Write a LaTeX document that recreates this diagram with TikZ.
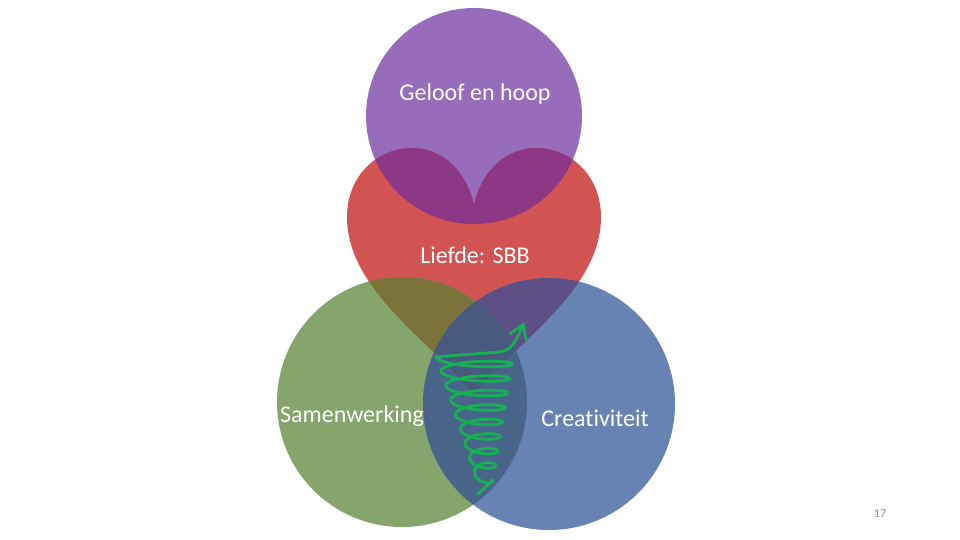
\documentclass[tikz,border=0pt]{standalone}
\usepackage{fontspec}
\setmainfont{Carlito}[Ligatures=NoCommon]
\usetikzlibrary{arrows.meta}
\tikzset{>={Straight Barb[length=14pt,width=18pt]}}

\definecolor{geloofc}{RGB}{151,108,186}
\definecolor{liefdec}{RGB}{209,83,82}
\definecolor{samenc}{RGB}{133,165,109}
\definecolor{creac}{RGB}{103,131,180}
\definecolor{geloofliefde}{RGB}{140,56,134}
\definecolor{samenliefde}{RGB}{124,115,59}
\definecolor{crealiefde}{RGB}{94,80,134}
\definecolor{samencrea}{RGB}{74,101,138}
\definecolor{allesc}{RGB}{72,90,126}
\definecolor{spiraalc}{RGB}{20,178,82}

\tikzset{lbl/.style={text=white, font=\fontsize{24}{28}\selectfont, inner sep=0pt}}
\tikzset{spiraal/.style={draw=spiraalc, line width=2.8pt, line cap=round, line join=round}}

\begin{document}
\begin{tikzpicture}[x=1pt,y=-1pt]
	\useasboundingbox (0,0) rectangle (960,540);
	\coordinate (GC) at (474,116);
	\coordinate (SC) at (402,402);
	\coordinate (CC) at (549,404);
	\path [save path=\hart] (474,395) .. controls (430,340) and (347,290) .. (347,217)
		.. controls (347,175) and (378,148) .. (412,148)
		.. controls (445,148) and (468,175) .. (474,205)
		.. controls (480,175) and (503,148) .. (536,148)
		.. controls (570,148) and (601,175) .. (601,217)
		.. controls (601,290) and (518,340) .. (474,395) -- cycle;
	
	\fill [geloofc] (GC) circle (108);
	\fill [liefdec, use path=\hart];
	\fill [samenc] (SC) circle (125);
	\fill [creac] (CC) circle (126);
	\begin{scope}
		\clip [use path=\hart];
		\fill [geloofliefde] (GC) circle (108);
		\fill [samenliefde] (SC) circle (125);
		\fill [crealiefde] (CC) circle (126);
	\end{scope}
	\begin{scope}
		\clip (SC) circle (125);
		\fill [samencrea] (CC) circle (126);
		\clip [use path=\hart];
		\fill [allesc] (CC) circle (126);
	\end{scope}
	
	\node (geloof) [lbl] at (475,94) {Geloof en hoop};
	\node (liefde) [lbl] at (475,255) {Liefde: SBB};
	\node (samen) [lbl] at (352,416) {Samenwerking};
	\node (crea) [lbl] at (595,418) {Creativiteit};
	\node (paginanr) [text={rgb,255:red,137;green,137;blue,137}, font=\fontsize{12}{14}\selectfont, inner sep=0pt] at (880,514) {17};
	
	\coordinate (start) at (478,494);
	\coordinate (tip) at (524,322);
	\draw [spiraal, ->] (start) -- plot [domain=0:8.5, samples=400]
		({485-1.2*\x+(8+3.6*\x)*cos(360*\x)}, {480-14.5*\x+6*sin(360*\x)})
		-- (500,352) .. controls (510,350) and (515,345) .. (tip);
\end{tikzpicture}
\end{document}
